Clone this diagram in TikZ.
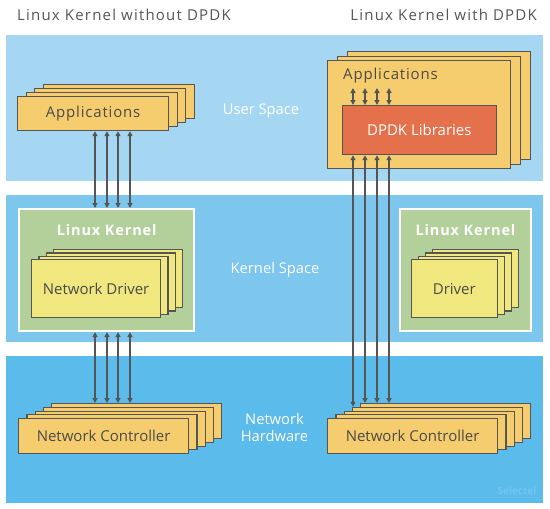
\documentclass[tikz,border=0pt]{standalone}
\usepackage{fontspec}
\setmainfont{Open Sans}
\usetikzlibrary{arrows.meta}
\definecolor{userbg}{HTML}{A5D7F2}
\definecolor{kernbg}{HTML}{7DC7EE}
\definecolor{hwbg}{HTML}{5BBBEB}
\definecolor{appfill}{HTML}{F6CD6E}
\definecolor{kfill}{HTML}{B3D09B}
\definecolor{dfill}{HTML}{F0E87E}
\definecolor{dpdkfill}{HTML}{E4714B}
\definecolor{edge}{HTML}{555555}
\definecolor{txt}{HTML}{4A4A4A}
\definecolor{ttl}{HTML}{555658}
\definecolor{wm}{HTML}{72C6EE}
\newcommand\stackof[9]{\foreach \i in {#6,...,1}{\node[layer,fill=#9,minimum width=#4pt,minimum height=#5pt] (#1\i) at ({#2+\i*(#7)},{#3+\i*(#8)}) {};}}
\begin{document}
\begin{tikzpicture}[x=1pt,y=-1pt,
  layer/.style={draw=edge,line width=1.2pt,inner sep=0pt,anchor=north west,text=txt,font=\fontsize{15}{18}\selectfont},
  spaced/.style={font=\fontsize{15}{18}\selectfont\addfontfeatures{LetterSpace=5.5}},
  kbox/.style={draw=white,line width=2pt,fill=kfill,anchor=north west,inner sep=0pt},
  ktitle/.style={text=white,font=\fontsize{14.5}{17}\selectfont\bfseries\addfontfeatures{LetterSpace=6}},
  title/.style={text=ttl,font=\fontsize{15}{18}\selectfont\addfontfeatures{LetterSpace=8},inner sep=0pt},
  side/.style={text=white,font=\fontsize{14.7}{17}\selectfont,align=center,inner sep=0pt},
  arr/.style={draw=edge,line width=1.4pt,{Triangle[length=5pt,width=5pt]}-{Triangle[length=5pt,width=5pt]}}]
\useasboundingbox (0,0) rectangle (550,509);
\fill[white] (0,0) rectangle (550,509);
% bands
\fill[userbg] (6,35) rectangle (543,181);
\fill[kernbg] (6,195) rectangle (543,342);
\fill[hwbg] (6,356) rectangle (543,503);
% titles
\node[title,anchor=west] (t1) at (17,15) {Linux Kernel without DPDK};
\node[title,anchor=east] (t2) at (537,15) {Linux Kernel with DPDK};
% side labels
\node[side] (us) at (261,111) {User Space};
\node[side] (ks) at (275,270) {Kernel Space};
\node[side] (nh1) at (274.5,419) {Network};
\node[side] (nh2) at (274.5,436) {Hardware};
% left applications
\stackof{appLb}{17}{96}{151}{34}{3}{8.5}{-4}{appfill}
\node[layer,spaced,fill=appfill,minimum width=151pt,minimum height=34pt] (appL) at (17,96) {Applications};
% left kernel
\node[kbox,minimum width=175pt,minimum height=122pt] (kernL) at (18,208) {};
\node[ktitle] (kernLt) at (106.7,230) {Linux Kernel};
\stackof{drvLb}{31}{259}{129}{58}{3}{7.3}{-3.3}{dfill}
\node[layer,fill=dfill,minimum width=129pt,minimum height=58pt] (drvL) at (31,259) {Network Driver};
% left network controller
\stackof{ncLb}{18}{418}{170}{35}{4}{8.3}{-3.75}{appfill}
\node[layer,fill=appfill,minimum width=170pt,minimum height=35pt] (ncL) at (18,418) {Network Controller};
% right applications
\stackof{appRb}{327}{60}{183}{108}{2}{10}{-4.5}{appfill}
\node[layer,fill=appfill,minimum width=183pt,minimum height=108pt] (appR) at (327,60) {};
\node[spaced,text=txt,anchor=west,inner sep=0pt] (appRt) at (343,76) {Applications};
\node[layer,fill=dpdkfill,text=white,minimum width=154pt,minimum height=49pt] (dpdk) at (341.7,105) {DPDK Libraries};
% right kernel
\node[kbox,minimum width=131pt,minimum height=122pt] (kernR) at (399,208) {};
\node[ktitle] (kernRt) at (465.5,230) {Linux Kernel};
\stackof{drvRb}{410.7}{259}{86}{58}{3}{7}{-3.3}{dfill}
\node[layer,fill=dfill,minimum width=86pt,minimum height=58pt] (drvR) at (410.7,259) {Driver};
% right network controller
\stackof{ncRb}{327}{418}{170}{35}{4}{8.3}{-3.75}{appfill}
\node[layer,fill=appfill,minimum width=170pt,minimum height=35pt] (ncR) at (327,418) {Network Controller};
% arrows
\coordinate (sm) at (0,88);
\foreach \x in {95,107,118,130}{
  \path (\x,0) coordinate (cx);
  \draw[arr] (appL.south -| cx) -- (kernL.north -| cx);
  \draw[arr] (kernL.south -| cx) -- (ncLb4.north -| cx);
}
\foreach \x in {353,365,377,389}{
  \path (\x,0) coordinate (cx);
  \draw[arr] (sm -| cx) -- (dpdk.north -| cx);
}
\path (353,0) coordinate (cx);
\draw[arr] (dpdk.south -| cx) -- (ncRb3.north -| cx);
\foreach \x in {365,377,389}{
  \path (\x,0) coordinate (cx);
  \draw[arr] (dpdk.south -| cx) -- (ncRb4.north -| cx);
}
% watermark
\node[text=wm,font=\fontsize{10}{12}\selectfont\bfseries,inner sep=0pt] (wmk) at (517,491) {Selectel};
\end{tikzpicture}
\end{document}
